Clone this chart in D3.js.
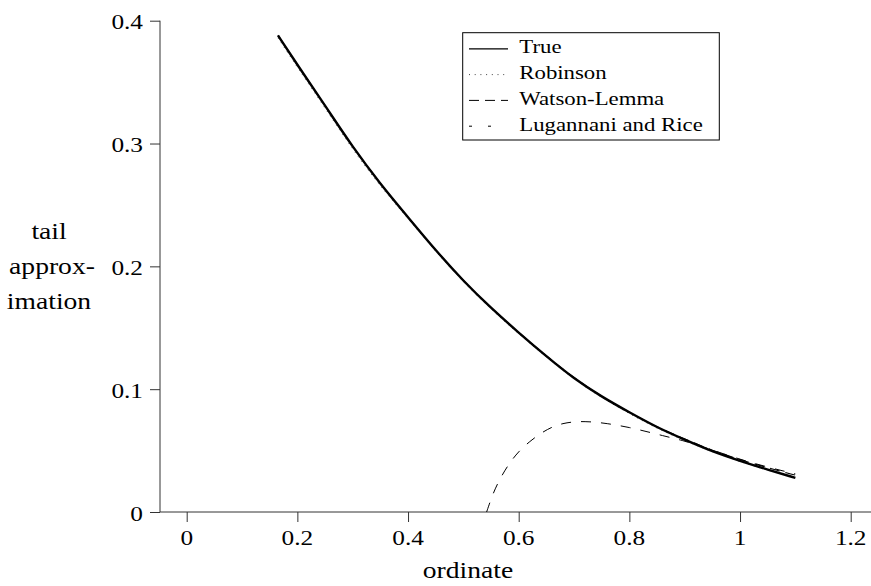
<!DOCTYPE html>
<html>
<head>
<meta charset="utf-8">
<script src="https://cdn.jsdelivr.net/npm/d3@7"></script>
</head>
<body style="margin:0; background:#fff">
<svg id="chart" width="871" height="586"></svg>
<script>
// ordinate grid for the three approximations that cover the whole range
const ordinate = [0.165, 0.2, 0.25, 0.3, 0.35, 0.4, 0.45, 0.5, 0.55, 0.6, 0.65,
  0.7, 0.75, 0.8, 0.85, 0.9, 0.95, 1.0, 1.05, 1.1];
const trueTail = [0.388, 0.364, 0.331, 0.297, 0.267, 0.240, 0.213, 0.188, 0.166, 0.146, 0.1267,
  0.1085, 0.0938, 0.0811, 0.0688, 0.0589, 0.0492, 0.0416, 0.0345, 0.0278];
const robinson = [0.386, 0.362, 0.329, 0.295, 0.265, 0.239, 0.212, 0.187, 0.165, 0.145, 0.126,
  0.108, 0.093, 0.080, 0.068, 0.058, 0.049, 0.041, 0.034, 0.028];
const watsonLemma = [0.388, 0.364, 0.331, 0.297, 0.267, 0.240, 0.213, 0.188, 0.166, 0.146, 0.127,
  0.109, 0.094, 0.081, 0.069, 0.0595, 0.050, 0.0425, 0.036, 0.030];
// Lugannani and Rice only becomes positive past ~0.54
const lrOrdinate = [0.542, 0.55, 0.56, 0.58, 0.6, 0.62, 0.64, 0.66, 0.68, 0.7, 0.72, 0.74,
  0.76, 0.78, 0.8, 0.82, 0.84, 0.86, 0.88, 0.9, 0.95, 1.0, 1.05, 1.1];
const lugannaniRice = [0, 0.0105, 0.022, 0.038, 0.0495, 0.0575, 0.0642, 0.0693, 0.0722, 0.0735,
  0.0737, 0.0731, 0.072, 0.0705, 0.0688, 0.0667, 0.0645, 0.0622, 0.06, 0.0578, 0.0505, 0.0428,
  0.0365, 0.031];

const xTicks = [0, 0.2, 0.4, 0.6, 0.8, 1, 1.2];
const yTicks = [0, 0.1, 0.2, 0.3, 0.4];
const legendLabels = ['True', 'Robinson', 'Watson-Lemma', 'Lugannani and Rice'];

const FONT = 'Liberation Serif';

const svg = d3.select('#chart');
const x = d3.scaleLinear().domain([0, 1.2]).range([186.7, 850.7]);
const y = d3.scaleLinear().domain([0, 0.4]).range([512, 20.7]);

// the source figure is a bit wider than tall, so text gets stretched sideways
function label(g, px, py, str, size, sx, anchor) {
  return g.append('text')
    .attr('transform', `translate(${px},${py}) scale(${sx},1)`)
    .attr('text-anchor', anchor)
    .attr('font-family', FONT)
    .attr('font-size', size)
    .attr('fill', '#000')
    .text(str);
}

// axes: tick marks from d3, labels placed by hand so they can be stretched
const xAxis = svg.append('g')
  .attr('transform', `translate(0,${y(0)})`)
  .call(d3.axisBottom(x).tickValues(xTicks).tickSize(10).tickSizeOuter(0).tickFormat(''));
xAxis.select('.domain').remove();
xAxis.selectAll('.tick line').attr('stroke', '#333');
xTicks.forEach((t) => label(svg, x(t), y(0) + 33, d3.format('')(t), 22, 1.15, 'middle'));

const yAxis = svg.append('g')
  .attr('transform', 'translate(160,0)')
  .call(d3.axisLeft(y).tickValues(yTicks).tickSize(10).tickSizeOuter(0).tickFormat(''));
yAxis.select('.domain').remove();
yAxis.selectAll('.tick line').attr('stroke', '#333');
yTicks.forEach((t) => label(svg, 143, y(t) + 8.5, d3.format('')(t), 22, 1.15, 'end'));

svg.append('line')
  .attr('x1', 160).attr('x2', 871)
  .attr('y1', y(0)).attr('y2', y(0))
  .attr('stroke', '#333');
svg.append('line')
  .attr('x1', 160).attr('x2', 160)
  .attr('y1', y(0.4)).attr('y2', y(0))
  .attr('stroke', '#333');

// axis titles
label(svg, 49, 238.5, 'tail', 23, 1.2, 'middle');
label(svg, 52, 273.5, 'approx-', 23, 1.2, 'middle');
label(svg, 49, 308.5, 'imation', 23, 1.2, 'middle');
label(svg, 468, 578, 'ordinate', 23, 1.2, 'middle');

// curves
const line = d3.line()
  .x((d) => x(d[0]))
  .y((d) => y(d[1]))
  .curve(d3.curveBasis);

const styles = [
  { width: 2.4, dash: null, color: '#000', legendDash: null },
  { width: 1, dash: '1,4.5', color: '#444', legendDash: '1,4.7' },
  { width: 1.1, dash: '10,6', color: '#000', legendDash: '10,6' },
  { width: 1, dash: '10,10', color: '#000', legendDash: '3,16,3,30' },
];
const curves = [
  d3.zip(ordinate, trueTail),
  d3.zip(ordinate, robinson),
  d3.zip(ordinate, watsonLemma),
  d3.zip(lrOrdinate, lugannaniRice),
];

const plot = svg.append('g');
// draw approximations first, true curve last on top
[1, 2, 3, 0].forEach((i) => {
  plot.append('path')
    .datum(curves[i])
    .attr('d', line)
    .attr('fill', 'none')
    .attr('stroke', styles[i].color)
    .attr('stroke-width', styles[i].width)
    .attr('stroke-dasharray', styles[i].dash)
    .attr('stroke-linejoin', 'round');
});

// legend
const legend = svg.append('g');
legend.append('rect')
  .attr('x', 462.7).attr('y', 32.7)
  .attr('width', 256.6).attr('height', 107.3)
  .attr('fill', '#fff')
  .attr('stroke', '#000')
  .attr('stroke-width', 1);

legendLabels.forEach((name, i) => {
  const base = 53.3 + i * 25.8;
  legend.append('line')
    .attr('x1', 469).attr('x2', 508)
    .attr('y1', base - 4.5).attr('y2', base - 4.5)
    .attr('stroke', styles[i].color)
    .attr('stroke-width', i === 0 ? 1.2 : 1)
    .attr('stroke-dasharray', styles[i].legendDash);
  label(legend, 519.3, base, name, 19, 1.2, 'start');
});
</script>
</body>
</html>
